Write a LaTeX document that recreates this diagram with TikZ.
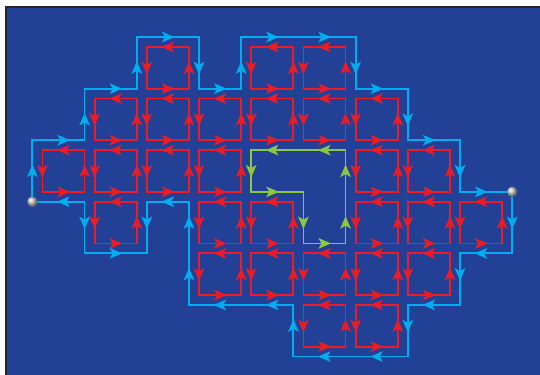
\documentclass[tikz,border=0pt]{standalone}
\usepackage{tikz}
\usetikzlibrary{arrows.meta}

\definecolor{bgblue}{RGB}{34,64,150}
\definecolor{loopred}{RGB}{237,28,36}
\definecolor{edgeblue}{RGB}{0,174,239}
\definecolor{loopgreen}{RGB}{141,198,63}
\newcommand\off{0.096}

\begin{document}
\begin{tikzpicture}[x=52.2pt, y=-51.6pt, line width=1.8pt,
    tip/.pic={\draw[line width=1.8pt, -{Stealth[length=12.5pt,width=10.5pt,inset=3pt]}] (#1+180:6.5pt) -- (#1:6.5pt);}]
  \useasboundingbox (-0.7165,-0.8140) rectangle (9.6284,6.4535);
  \fill[bgblue] (-0.6015,-0.6783) rectangle (9.6284,6.4535);
  \draw[black!85, line width=1.3pt] (-0.6015,6.4535) -- (-0.6015,-0.6783) -- (9.6284,-0.6783);

  % red cells, each one a loop
  \foreach \c/\r in {2/0,4/0,5/0, 1/1,2/1,3/1,4/1,5/1,6/1, 0/2,1/2,2/2,3/2,6/2,7/2,
                     1/3,3/3,4/3,6/3,7/3,8/3, 3/4,4/4,5/4,6/4,7/4, 5/5,6/5} {
    \draw[loopred] (\c+\off,\r+\off) rectangle (\c+1-\off,\r+1-\off);
    \pic[loopred] at (\c+\off,\r+.5) {tip=270};
    \pic[loopred] at (\c+.5,\r+1-\off) {tip=0};
    \pic[loopred] at (\c+1-\off,\r+.5) {tip=90};
    \pic[loopred] at (\c+.5,\r+\off) {tip=180};
  }

  % green loop
  \draw[loopgreen] (4+\off,2+\off) |- (5+\off,3-\off) |- (6-\off,4-\off) -- (6-\off,2+\off) -- cycle;
  \foreach \px/\py/\a in {4+\off/2.5/270, 4.5/3-\off/0, 5+\off/3.5/270, 5.5/4-\off/0,
                          6-\off/3.5/90, 6-\off/2.5/90, 5.5/2+\off/180, 4.5/2+\off/180}
    \pic[loopgreen] at (\px,\py) {tip=\a};

  % outer boundary
  \coordinate (src) at (-\off,3+\off);
  \coordinate (snk) at (9+\off,3-\off);
  \draw[edgeblue] (src) |- (1-\off,2-\off) |- (2-\off,1-\off) |- (3+\off,-\off)
    |- (4-\off,1-\off) |- (6+\off,-\off) |- (7+\off,1-\off) |- (8+\off,2-\off) |- (snk)
    |- (8+\off,4+\off) |- (7+\off,5+\off) |- (5-\off,6+\off) |- (3-\off,5+\off)
    |- (2+\off,3+\off) |- (1-\off,4+\off) |- (src);
  \foreach \px/\py/\a in {-\off/2.5/90, 0.5/2-\off/0, 1-\off/1.5/90, 1.5/1-\off/0,
                          2-\off/0.5/90, 2.5/-\off/0, 3+\off/0.5/270, 3.5/1-\off/0,
                          4-\off/0.5/90, 4.5/-\off/0, 5.5/-\off/0, 6+\off/0.5/270,
                          6.5/1-\off/0, 7+\off/1.5/270, 7.5/2-\off/0, 8+\off/2.5/270,
                          8.5/3-\off/0, 9+\off/3.5/270, 8.5/4+\off/180, 8+\off/4.5/270,
                          7.5/5+\off/180, 7+\off/5.5/270, 6.5/6+\off/180, 5.5/6+\off/180,
                          5-\off/5.5/90, 4.5/5+\off/180, 3.5/5+\off/180, 3-\off/4.5/90,
                          3-\off/3.5/90, 2.5/3+\off/180, 2+\off/3.5/270, 1.5/4+\off/0,
                          1-\off/3.5/270, 0.5/3+\off/180}
    \pic[edgeblue] at (\px,\py) {tip=\a};

  \shade[ball color=gray!45] (src) circle (5.3pt);
  \shade[ball color=gray!45] (snk) circle (5.3pt);
\end{tikzpicture}
\end{document}
